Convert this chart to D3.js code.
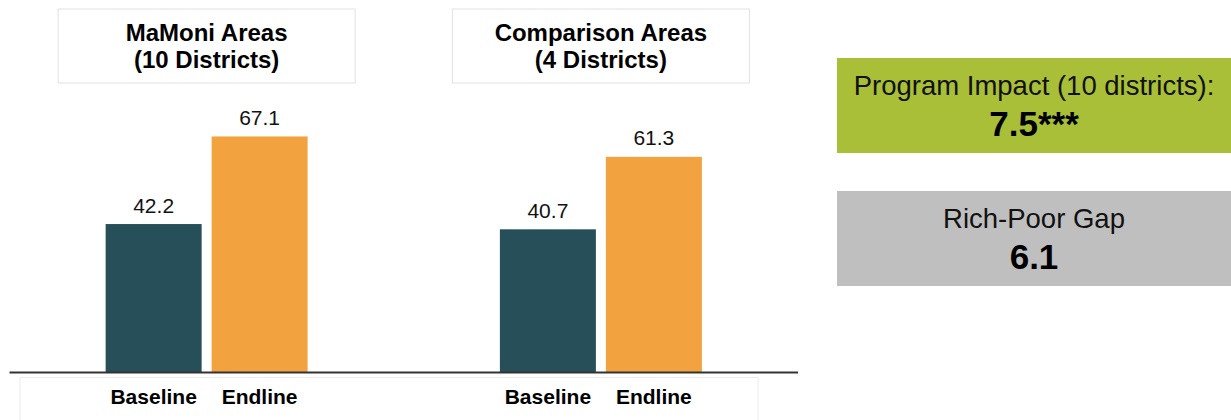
<!DOCTYPE html>
<html>
<head>
<meta charset="utf-8">
<script src="https://cdn.jsdelivr.net/npm/d3@7"></script>
<style>
  body { margin: 0; background: #fff; }
  svg { display: block; font-family: "Liberation Sans", Arial, sans-serif; }
</style>
</head>
<body>
<div id="chart"></div>
<script>
// data
var groups = ["MaMoni", "Comparison"]
var groupTitles = [["MaMoni Areas", "(10 Districts)"], ["Comparison Areas", "(4 Districts)"]]
var series = ["Baseline", "Endline"]
var baseline = [42.2, 40.7]
var endline = [67.1, 61.3]
var seriesColors = ["#264f5a", "#f2a33f"]

var impactLabel = "Program Impact (10 districts):"
var impactValue = "7.5***"
var gapLabel = "Rich-Poor Gap"
var gapValue = "6.1"

var width = 1231,
    height = 420;

var svg = d3.select("#chart").append("svg")
    .attr("width", width)
    .attr("height", height)

var x0 = d3.scaleBand()
    .domain(groups)
    .range([9.5, 798])
    .paddingInner(0)

var x1 = d3.scaleBand()
    .domain(series)
    .range([0, x0.bandwidth()])
    .paddingInner(0.0943)
    .paddingOuter(0.907)

var y = d3.scaleLinear()
    .domain([0, 100])
    .range([372.5, 20.7])

var rows = groups.map(function (g, i) {
  return {group: g, values: [baseline[i], endline[i]], title: groupTitles[i]}
})

// title boxes over each group
var titles = svg.selectAll(".title")
    .data(rows)
  .enter().append("g")
    .attr("class", "title")
    .attr("transform", function (d) { return "translate(" + (x0(d.group) + x0.bandwidth() / 2) + ",0)"; })

titles.append("rect")
    .attr("x", -148.5)
    .attr("y", 9)
    .attr("width", 297)
    .attr("height", 74)
    .attr("fill", "#fff")
    .attr("stroke", "#e2e2e2")

titles.selectAll("text")
    .data(function (d) { return d.title; })
  .enter().append("text")
    .attr("x", 0)
    .attr("y", function (d, i) { return 41 + i * 27; })
    .attr("text-anchor", "middle")
    .attr("font-size", 24)
    .attr("font-weight", "bold")
    .attr("fill", "#000")
    .text(function (d) { return d; })

// box behind the category labels
svg.append("rect")
    .attr("x", 20)
    .attr("y", 377.5)
    .attr("width", 738)
    .attr("height", 60)
    .attr("fill", "#fff")
    .attr("stroke", "#ececec")

var g = svg.selectAll(".group")
    .data(rows)
  .enter().append("g")
    .attr("class", "group")
    .attr("transform", function (d) { return "translate(" + x0(d.group) + ",0)"; })

var cells = g.selectAll(".cell")
    .data(function (d) { return series.map(function (s, i) { return {key: s, value: d.values[i], i: i}; }); })
  .enter().append("g")
    .attr("class", "cell")

cells.append("rect")
    .attr("x", function (d) { return x1(d.key); })
    .attr("y", function (d) { return y(d.value); })
    .attr("width", x1.bandwidth())
    .attr("height", function (d) { return y(0) - y(d.value); })
    .attr("fill", function (d) { return seriesColors[d.i]; })

cells.append("text")
    .attr("x", function (d) { return x1(d.key) + x1.bandwidth() / 2; })
    .attr("y", function (d) { return y(d.value) - 11.5; })
    .attr("text-anchor", "middle")
    .attr("font-size", 21)
    .attr("fill", "#111")
    .text(function (d) { return d.value.toFixed(1); })

// category labels under bars
g.append("g")
    .attr("transform", "translate(0," + y(0) + ")")
    .call(d3.axisBottom(x1).tickSize(0).tickPadding(17))
    .call(function (a) { a.select(".domain").remove(); })
    .selectAll("text")
    .attr("font-family", "Liberation Sans, Arial, sans-serif")
    .attr("font-size", 21)
    .attr("font-weight", "bold")
    .attr("fill", "#000")

// baseline axis line
svg.append("line")
    .attr("x1", 9.5)
    .attr("x2", 798)
    .attr("y1", y(0))
    .attr("y2", y(0))
    .attr("stroke", "#333")
    .attr("stroke-width", 2)

// side boxes
var side = [
  {top: 58, fill: "#a9bf38", label: impactLabel, value: impactValue},
  {top: 191, fill: "#bfbfbf", label: gapLabel, value: gapValue}
]

var boxes = svg.selectAll(".side")
    .data(side)
  .enter().append("g")
    .attr("class", "side")
    .attr("transform", function (d) { return "translate(837," + d.top + ")"; })

boxes.append("rect")
    .attr("width", 396)
    .attr("height", 95)
    .attr("fill", function (d) { return d.fill; })

boxes.append("text")
    .attr("x", 197)
    .attr("y", 37)
    .attr("text-anchor", "middle")
    .attr("font-size", 27.5)
    .attr("fill", "#111")
    .text(function (d) { return d.label; })

boxes.append("text")
    .attr("x", 197)
    .attr("y", 78)
    .attr("text-anchor", "middle")
    .attr("font-size", 35)
    .attr("font-weight", "bold")
    .attr("fill", "#000")
    .text(function (d) { return d.value; })
</script>
</body>
</html>
